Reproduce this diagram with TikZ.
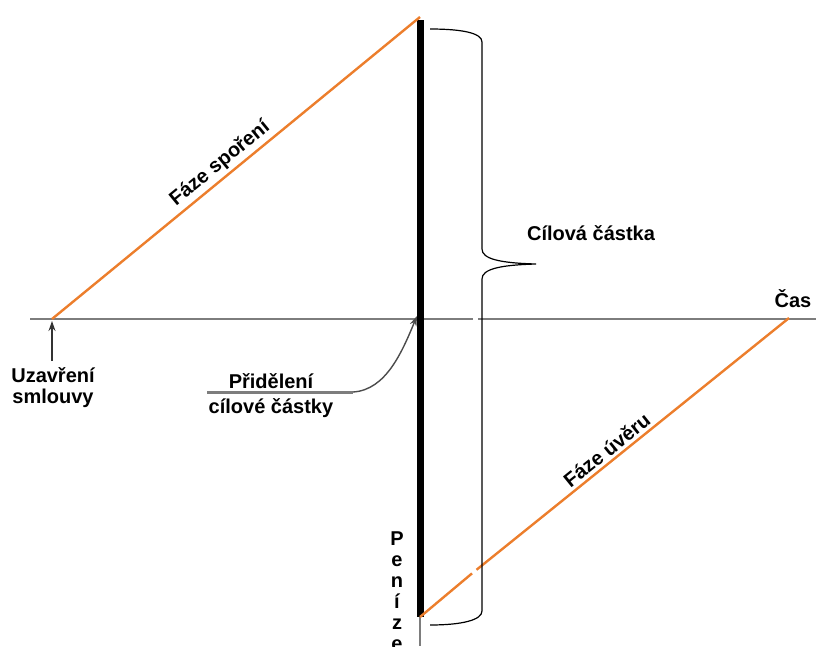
\documentclass[tikz,border=0pt]{standalone}
\usepackage{fontspec}
\setmainfont{Liberation Sans}
\usepackage{tikz}
\usetikzlibrary{arrows.meta}

\definecolor{fazeorange}{RGB}{236,126,44}
\definecolor{osagray}{RGB}{125,125,125}

\tikzset{
    lbl/.style={font=\fontsize{20}{21}\selectfont\bfseries, inner sep=2pt},
    faze/.style={draw=fazeorange, line width=2.4pt},
    osa/.style={draw=osagray, line width=1.6pt},
}

\begin{document}
\begin{tikzpicture}[x=1pt, y=-1pt]

\useasboundingbox (0,0) rectangle (816,646);

% body na osach
\coordinate (smlouva) at (52,319);
\coordinate (vrchol) at (420,17);
\coordinate (stred) at (420,319);
\coordinate (dno) at (420,617);
\coordinate (splaceno) at (789,318);

% casova osa (s malou mezerou)
\draw[osa] (30,319) -- (473,319);
\draw[osa] (478,319) -- (816,319);
\draw[osagray, line width=1.2pt] (dno) -- (420,646);

% penize
\draw[black, line width=7pt] (420,20) -- (dno);

% faze sporeni
\draw[faze] (smlouva) -- (vrchol)
    node[lbl, pos=0.48, above=1pt, sloped] (sporeni) {Fáze spoření};

% faze uveru
\draw[faze] (dno) -- (472,573.4);
\draw[faze] (476.5,569.8) -- (splaceno)
    node[lbl, pos=0.44, above=1pt, sloped] (uver) {Fáze úvěru};

% slozena zavorka
\draw[black, line width=1.2pt]
    (430,29) .. controls (462,29) and (482,33) .. (482,42)
    -- (482,249) .. controls (482,259) and (500,263) .. (536,264)
    .. controls (500,265) and (482,269) .. (482,279)
    -- (482,611) .. controls (482,620) and (462,625) .. (430,625);
\node[lbl, anchor=base] (cilova) at (591,240) {Cílová částka};

\node[lbl, anchor=base] (cas) at (793,307) {Čas};

% uzavreni smlouvy
\node[lbl, align=center] (uzavreni) at (53,388) {Uzavření\\smlouvy};
\draw[-{Stealth[length=10pt, width=7pt]}, black!80, line width=1.4pt]
    (52,361) -- ([yshift=-2pt]smlouva);

% prideleni cilove castky
\node[lbl, align=center, font=\fontsize{20}{25}\selectfont\bfseries] (prideleni) at (271,396) {Přidělení\\cílové částky};
\draw[osagray, line width=3pt] (207,392) -- (353,392);
\draw[-{Stealth[length=10pt, width=7pt]}, black!70, line width=1.4pt]
    (353,392) .. controls (386,390) and (402,352) .. ([xshift=-3pt,yshift=3pt]stred);

% penize (svisle)
\node[lbl, align=center, anchor=north, font=\fontsize{20}{21}\selectfont\bfseries] (penize) at (397,530) {P\\e\\n\\í\\z\\e};

\end{tikzpicture}
\end{document}
